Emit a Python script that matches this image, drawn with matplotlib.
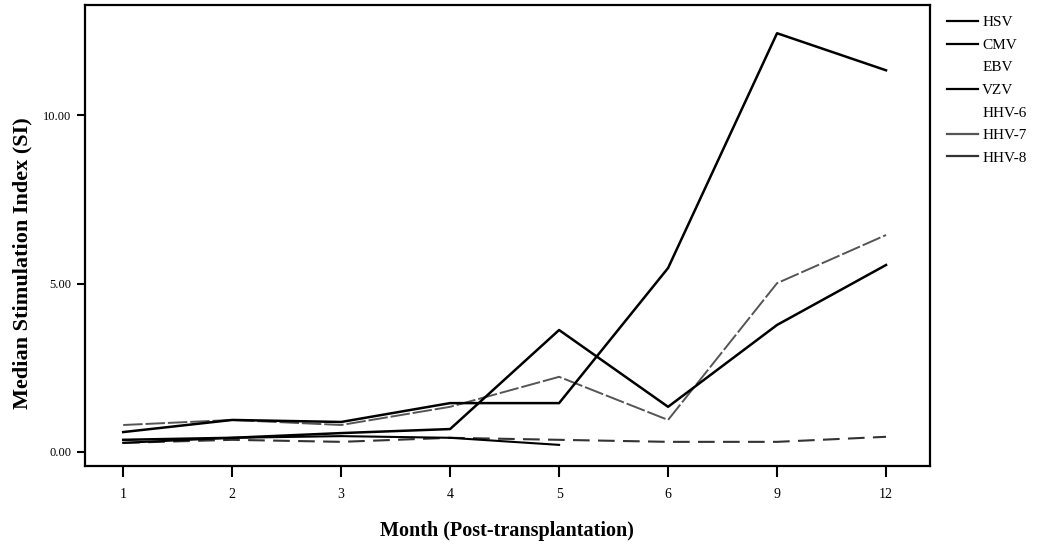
import matplotlib
matplotlib.use("Agg")
import matplotlib.pyplot as plt
from matplotlib.lines import Line2D

months = ["1", "2", "3", "4", "5", "6", "9", "12"]
hsv = [0.59, 0.95, 0.89, 1.45, 1.45, 5.46, 12.43, 11.33]
cmv = [0.36, 0.42, 0.56, 0.68, 3.62, 1.34, 3.77, 5.55]
vzv = [0.27, 0.42, 0.47, 0.42, 0.21]
hhv7 = [0.80, 0.95, 0.80, 1.34, 2.23, 0.95, 5.01, 6.44]
hhv8 = [0.27, 0.36, 0.30, 0.42, 0.36, 0.30, 0.30, 0.45]
yticks = [0, 5, 10]
ytick_labels = ["0.00", "5.00", "10.00"]
legend_names = ["HSV", "CMV", "EBV", "VZV", "HHV-6", "HHV-7", "HHV-8"]

plt.rcParams["font.family"] = ["Liberation Serif", "DejaVu Serif"]

fig = plt.figure(figsize=(10.41, 5.49), dpi=100)
ax = fig.add_axes([0.0817, 0.151, 0.8113, 0.840])

x = list(range(len(months)))
ax.plot(x[:len(hhv8)], hhv8, color="#333333", lw=1.5, dashes=(8, 4), zorder=2)
ax.plot(x[:len(vzv)], vzv, color="black", lw=1.5, zorder=3)
ax.plot(x, hhv7, color="#555555", lw=1.4, dashes=(10, 1.5), zorder=3)
ax.plot(x, cmv, color="black", lw=1.8, zorder=4)
ax.plot(x, hsv, color="black", lw=1.8, zorder=4)

ax.set_xlim(-0.35, 7.4)
ax.set_ylim(-0.42, 13.27)
ax.set_xticks(x)
ax.set_xticklabels(months, fontsize=10)
ax.set_yticks(yticks)
ax.set_yticklabels(ytick_labels, fontsize=9)
ax.tick_params(axis="x", direction="out", length=8, width=1.5, pad=8)
ax.tick_params(axis="y", direction="out", length=6, width=1.5, pad=4)
for s in ax.spines.values():
    s.set_linewidth(1.6)

ax.set_xlabel("Month (Post-transplantation)", fontsize=14.5, fontweight="bold", labelpad=14)
ax.set_ylabel("Median Stimulation Index (SI)", fontsize=16, fontweight="bold")
ax.yaxis.set_label_coords(-0.062, 0.44)

colors = ["black", "black", "white", "black", "white", "#555555", "#333333"]
handles = [Line2D([0], [0], color=c, lw=1.6) for c in colors]
leg = ax.legend(handles, legend_names, loc="upper left", bbox_to_anchor=(1.008, 1.0),
                frameon=False, fontsize=11, handlelength=2.0, handletextpad=0.3,
                labelspacing=0.58, borderaxespad=0.3)

fig.savefig("out.png", dpi=100)
